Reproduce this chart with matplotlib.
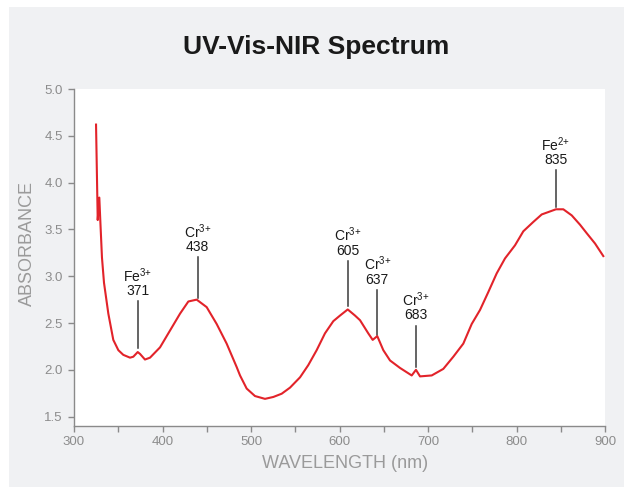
import numpy as np
import matplotlib
matplotlib.use('Agg')
import matplotlib.pyplot as plt
from matplotlib.patches import Rectangle
from matplotlib.ticker import MultipleLocator

plt.rcParams['font.family'] = ['Liberation Sans', 'DejaVu Sans']
plt.rcParams['mathtext.fontset'] = 'custom'
plt.rcParams['mathtext.rm'] = 'Liberation Sans'
plt.rcParams['mathtext.default'] = 'regular'

# spectrum
wavelength = [324.9, 326.8, 328.6, 329.7, 331.6, 333.9, 338.8, 344.4, 350.1, 355.7,
              363.3, 367.0, 372.0, 374.6, 380.2, 385.9, 397.2, 408.5, 419.8, 429.2,
              438.6, 449.9, 461.2, 472.5, 483.8, 487.6, 495.1, 504.5, 515.8, 525.2,
              534.7, 544.1, 555.4, 564.7, 574.2, 583.6, 593.0, 600.6, 609.3, 617.5,
              623.2, 632.5, 637.5, 642.7, 649.5, 657.1, 668.4, 681.6, 686.4, 691.0,
              704.2, 717.3, 728.6, 739.9, 749.4, 758.8, 768.1, 777.6, 787.0, 798.3,
              807.7, 819.0, 828.5, 844.6, 852.9, 862.4, 871.8, 879.3, 888.7, 898.1]
absorbance = [4.62, 3.60, 3.84, 3.60, 3.20, 2.93, 2.60, 2.32, 2.21, 2.16,
              2.13, 2.14, 2.19, 2.17, 2.11, 2.13, 2.24, 2.42, 2.60, 2.73,
              2.75, 2.67, 2.49, 2.28, 2.03, 1.94, 1.80, 1.72, 1.69, 1.71,
              1.745, 1.81, 1.92, 2.05, 2.21, 2.39, 2.52, 2.58, 2.645, 2.58,
              2.53, 2.39, 2.32, 2.36, 2.21, 2.10, 2.02, 1.94, 2.00, 1.93,
              1.94, 2.01, 2.14, 2.28, 2.49, 2.64, 2.83, 3.03, 3.19, 3.33,
              3.48, 3.58, 3.66, 3.715, 3.715, 3.65, 3.55, 3.46, 3.35, 3.215]

# peak annotations: ion, label, x on curve, curve value, top of marker line
ions = ['Fe$^{3{+}}$', 'Cr$^{3{+}}$', 'Cr$^{3{+}}$', 'Cr$^{3{+}}$', 'Cr$^{3{+}}$', 'Fe$^{2{+}}$']
peak_labels = ['371', '438', '605', '637', '683', '835']
peak_x = [372.0, 439.8, 609.3, 642.7, 686.4, 844.6]
peak_y = [2.23, 2.77, 2.68, 2.37, 2.03, 3.74]
line_top = [2.73, 3.20, 3.16, 2.85, 2.47, 4.13]

W, H = 624, 487
fig = plt.figure(figsize=(W / 100, H / 100), dpi=100)
fig.patch.set_facecolor('white')
fig.add_artist(Rectangle((9 / W, 0), 1 - 9 / W, 1 - 7 / H, transform=fig.transFigure,
                         facecolor='#f0f1f3', edgecolor='none', zorder=0))

ax = fig.add_axes([74 / W, 1 - 426 / H, (605 - 74) / W, (426 - 89) / H])
ax.set_facecolor('white')

ax.plot(wavelength, absorbance, color='#e2232a', lw=1.5, zorder=3)

for ion, lab, px, py, top in zip(ions, peak_labels, peak_x, peak_y, line_top):
    ax.plot([px, px], [py, top], color='#3a3a3a', lw=1.1, zorder=2)
    ax.annotate(ion + '\n' + lab, (px, top), xytext=(0, 2.5), textcoords='offset points',
                ha='center', va='bottom', fontsize=10, color='#1a1a1a', linespacing=0.95)

ax.set_xlim(300, 900)
ax.set_ylim(1.4, 5.0)
ax.xaxis.set_major_locator(MultipleLocator(100))
ax.xaxis.set_minor_locator(MultipleLocator(50))
ax.yaxis.set_major_locator(MultipleLocator(0.5))
ax.yaxis.set_major_formatter(matplotlib.ticker.FormatStrFormatter('%.1f'))

for s in ['top', 'right']:
    ax.spines[s].set_visible(False)
for s in ['left', 'bottom']:
    ax.spines[s].set_color('#8a8a8a')
    ax.spines[s].set_linewidth(1.0)

ax.tick_params(which='both', direction='out', length=4, width=1, color='#8a8a8a',
               labelcolor='#8c8c8c', labelsize=9.5)
ax.tick_params(axis='y', pad=4)
ax.tick_params(axis='x', pad=3)

ax.set_xlabel('WAVELENGTH (nm)', fontsize=13, color='#9a9a9a')
ax.xaxis.set_label_coords(0.51, -0.086)
ax.set_ylabel('ABSORBANCE', fontsize=13, color='#9a9a9a')
ax.yaxis.set_label_coords(-0.071, 0.543)

fig.text(0.507, 1 - 47 / H, 'UV-Vis-NIR Spectrum', ha='center', va='center',
         fontsize=19, fontweight='bold', color='#1a1a1a')

fig.savefig('out.png', dpi=100, facecolor=fig.get_facecolor())
